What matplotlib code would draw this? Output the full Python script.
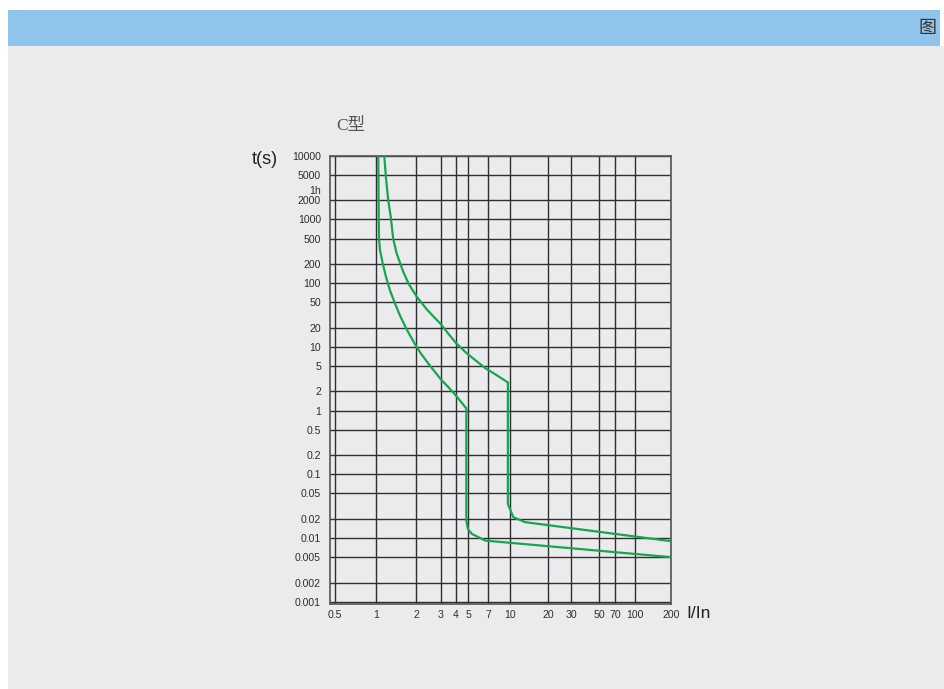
import numpy as np
import matplotlib
matplotlib.use('Agg')
import matplotlib.pyplot as plt
from matplotlib.patches import Rectangle

# Axis ticks of the chart paper
X_TICKS = [0.5, 1, 2, 3, 4, 5, 7, 10, 20, 30, 50, 70, 100, 200]
X_LABELS = ['0.5', '1', '2', '3', '4', '5', '7', '10', '20', '30', '50', '70', '100', '200']
Y_TICKS = [10000, 5000, 2000, 1000, 500, 200, 100, 50, 20, 10, 5, 2, 1,
           0.5, 0.2, 0.1, 0.05, 0.02, 0.01, 0.005, 0.002, 0.001]
Y_LABELS = ['10000', '5000', '2000', '1000', '500', '200', '100', '50', '20', '10', '5', '2', '1',
            '0.5', '0.2', '0.1', '0.05', '0.02', '0.01', '0.005', '0.002', '0.001']

# the printed x axis is log up to 10, squeezed above 10
PAPER_VALUES = [0.4, 0.5, 1, 2, 3, 4, 5, 7, 10, 20, 30, 50, 70, 100, 200, 300]
PAPER_DECADES = [-0.398, -0.306, 0, 0.299, 0.483, 0.597, 0.687, 0.834, 1.0,
                 1.281, 1.453, 1.664, 1.784, 1.933, 2.199, 2.355]

# Tripping curves (I/In, t in s)
lower_x = [1.04, 1.045, 1.053, 1.071, 1.122, 1.188, 1.272, 1.386, 1.52, 1.694, 1.975, 2.16, 2.44,
           3.0, 3.46, 4.0, 4.83, 4.83, 4.97, 5.32, 6.70, 200]
lower_t = [10000, 2000, 500, 331, 205, 125.6, 77.3, 48.3, 30.3, 19.0, 10.7, 7.89, 5.5,
           3.09, 2.33, 1.71, 1.08, 0.0188, 0.0139, 0.0116, 0.0091, 0.005]

upper_x = [1.153, 1.188, 1.235, 1.29, 1.346, 1.426, 1.599, 1.76, 2.023, 2.393, 3.0, 3.49, 4.0,
           4.88, 6.70, 7.94, 9.64, 9.64, 10.6, 13.2, 200]
upper_t = [10000, 4449, 2000, 1090, 500, 295, 151.6, 97, 61.0, 38.3, 22.7, 15.7, 11.4,
           7.89, 4.62, 3.67, 2.76, 0.0342, 0.0212, 0.0177, 0.0089]

GREEN = '#16a552'
W, H = 944, 689

LOGS = np.log10(PAPER_VALUES)


def forward(x):
    x = np.clip(np.asarray(x, dtype=float), 1e-9, None)
    return np.interp(np.log10(x), LOGS, PAPER_DECADES)


def inverse(p):
    return 10 ** np.interp(p, PAPER_DECADES, LOGS)


def fx(px):
    return px / W


def fy(py):
    return 1 - py / H


fig = plt.figure(figsize=(W / 100, H / 100), dpi=100, facecolor='white')

# page background and header band (behind the axes)
fig.patches.append(Rectangle((fx(8), 0), 1 - fx(8), fy(46), transform=fig.transFigure,
                             facecolor='#ebebed', edgecolor='none', zorder=-2))
fig.patches.append(Rectangle((fx(8), fy(46)), fx(940) - fx(8), fy(10) - fy(46),
                             transform=fig.transFigure, facecolor='#91c4ea',
                             edgecolor='none', zorder=-2))
fig.text(fx(927), fy(28), '图', family=['Noto Sans CJK SC', 'DejaVu Sans'],
         fontsize=13, color='#333333', ha='center', va='center')

ax = fig.add_axes([fx(330), fy(604), fx(671) - fx(330), fy(155.7) - fy(604)])
ax.set_facecolor('#ebebed')
ax.set_xscale('function', functions=(forward, inverse))
ax.set_yscale('log')
ax.set_xlim(0.457, 200)
ax.set_ylim(0.00092, 10000)

ax.set_xticks(X_TICKS)
ax.set_xticklabels(X_LABELS)
ax.set_yticks(Y_TICKS)
ax.set_yticklabels(Y_LABELS)
ax.xaxis.set_minor_locator(matplotlib.ticker.NullLocator())
ax.yaxis.set_minor_locator(matplotlib.ticker.NullLocator())
ax.tick_params(axis='both', length=0, labelsize=7.6, labelcolor='#2e2e2e')
ax.tick_params(axis='y', pad=6.5)
ax.tick_params(axis='x', pad=4)
for lab in ax.get_xticklabels() + ax.get_yticklabels():
    lab.set_family('Liberation Sans')

ax.grid(True, which='major', color='#2f2f2f', linewidth=1.0)
ax.set_axisbelow(True)
for s in ax.spines.values():
    s.set_color('#555555')
    s.set_linewidth(1.2)

ax.plot(lower_x, lower_t, color=GREEN, linewidth=1.6, solid_joinstyle='round', zorder=3)
ax.plot(upper_x, upper_t, color=GREEN, linewidth=1.6, solid_joinstyle='round', zorder=3)

ax.annotate('1h', xy=(0, 2000), xycoords=ax.get_yaxis_transform(),
            xytext=(-6.5, 7.5), textcoords='offset points', ha='right', va='center_baseline',
            fontsize=7.6, color='#2e2e2e', family='Liberation Sans')

fig.text(fx(265), fy(159), 't(s)', family='Liberation Sans', fontsize=13,
         color='#222222', ha='center', va='center')
fig.text(fx(699), fy(614), 'I/In', family='Liberation Sans', fontsize=12.5,
         color='#222222', ha='center', va='center')
fig.text(fx(336), fy(126), 'C型', family=['Liberation Serif', 'Noto Sans CJK SC'],
         fontsize=12.5, color='#555555', ha='left', va='center')

fig.savefig('out.png', dpi=100, facecolor=fig.get_facecolor())
